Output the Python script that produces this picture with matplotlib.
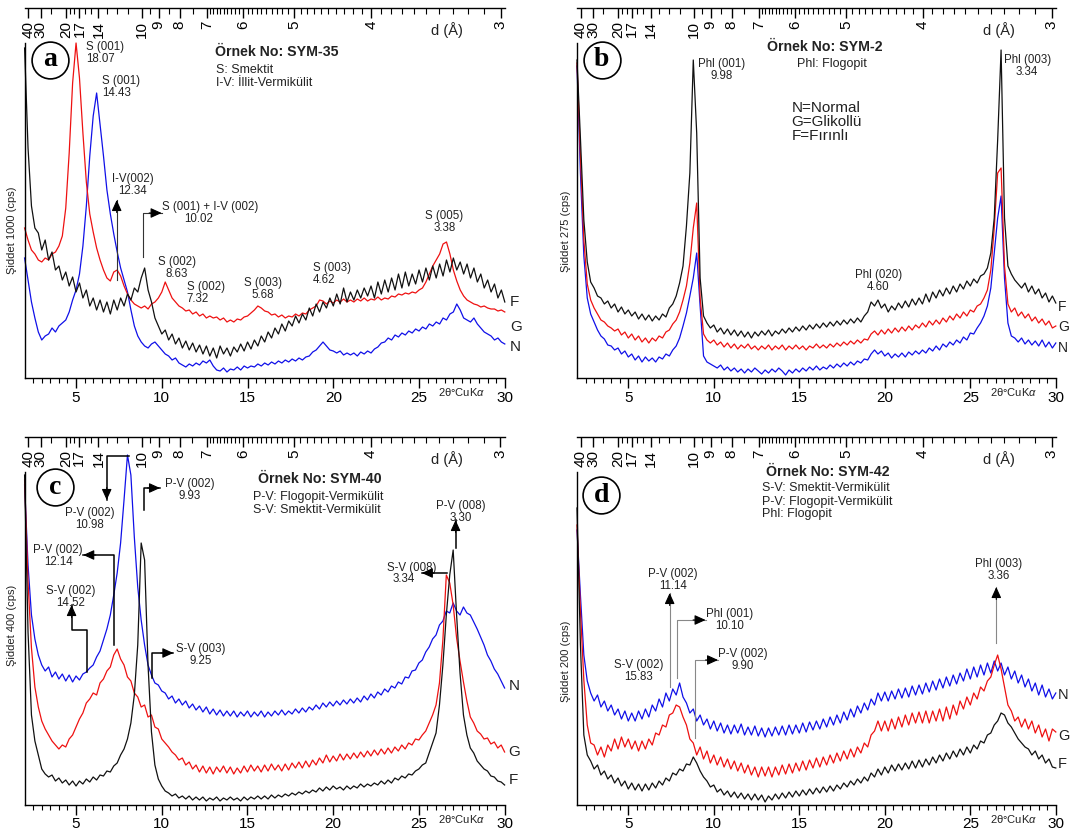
import numpy as np
import matplotlib
matplotlib.use("Agg")
import matplotlib.pyplot as plt

plt.rcParams['font.family'] = ['Liberation Sans', 'DejaVu Sans']
plt.rcParams['mathtext.fontset'] = 'custom'
plt.rcParams['mathtext.it'] = 'Liberation Sans:italic'
plt.rcParams['mathtext.rm'] = 'Liberation Sans'

W, H = 1070, 839

# 2-theta sampling grid (degrees)
two_theta = np.round(np.arange(2.0, 30.01, 0.2), 1)

# ---------------- Panel a : SYM-35 (intensity, arbitrary units) ----------------
a_F = [330,230,172,150,145, 128,138,118,126,108, 112,98,106,92,101, 86,95,80,88,72,
       80,68,78,66,76, 64,78,68,80,72, 84,78,90,86,100, 110,88,76,60,52,
       44,48,38,44,34, 40,30,37,28,35, 26,33,24,32,22, 30,20,32,24,30,
       22,31,26,34,27, 36,29,38,32,42, 36,46,40,50,44, 54,47,57,52,62,
       55,64,58,70,62, 74,66,76,70,80, 72,84,74,90,76, 86,78,88,80,90,
       82,92,80,96,84, 98,86,100,88,104, 90,106,92,104,94, 108,96,110,98,112,
       100,114,102,118,106, 120,108,116,104,114, 100,110,96,104,90, 98,86,94,80,88,
       76]
a_G = [150,138,128,124,118, 116,120,118,124,126, 132,142,170,225,295, 335,300,245,196,164,
       146,130,118,108,100, 97,106,108,102,92, 84,78,74,72,70, 72,69,74,76,80,
       86,96,88,80,76, 72,70,67,68,64, 66,62,64,60,62, 60,61,58,60,56,
       58,56,59,58,61, 62,65,68,72,70, 67,66,63,64,61, 63,60,62,61,64,
       62,65,64,68,70, 72,78,77,74,77, 75,78,76,79,76, 78,76,79,77,80,
       77,79,78,81,78, 80,79,82,81,84, 83,85,84,86,85, 88,90,96,104,112,
       118,124,134,136,124, 108,97,88,82,78, 76,74,73,71,72, 70,69,69,67,68,
       66]
a_N = [120,98,76,60,46, 38,42,44,50,46, 52,55,58,66,78, 88,104,132,172,222,
       262,285,254,222,188, 164,144,126,110,98, 86,68,52,42,36, 32,30,34,36,32,
       28,24,22,18,20, 15,13,11,14,12, 15,13,17,15,18, 12,8,7,10,6,
       9,8,11,8,12, 10,12,11,14,12, 15,13,16,14,17, 15,18,16,19,17,
       20,18,21,22,26, 28,32,36,32,28, 27,25,27,23,25, 23,25,22,26,24,
       27,25,29,31,35, 36,40,38,43,41, 45,43,47,45,49, 47,51,49,54,52,
       56,54,60,58,64, 66,74,68,60,58, 56,60,54,50,46, 44,42,38,40,36,
       34]

# ---------------- Panel b : SYM-2 ----------------
b_F = [318,240,158,116,96, 90,82,80,74,77, 70,74,66,71,64, 68,62,66,59,64,
       58,63,57,62,58, 64,61,70,74,82, 95,112,152,205,318, 245,100,62,55,50,
       53,46,50,44,49, 43,48,42,47,41, 46,40,46,42,47, 43,48,42,47,44,
       49,45,50,46,51, 47,52,48,53,49, 54,50,55,51,56, 52,57,53,58,54,
       59,55,60,56,62, 66,76,72,78,70, 74,66,72,68,75, 70,77,71,79,73,
       80,74,84,76,86, 80,88,82,90,84, 92,86,94,89,97, 92,99,95,102,104,
       110,125,160,238,328, 160,112,104,98,94, 90,95,86,92,84, 89,80,85,76,82,
       75]
b_G = [315,222,138,94,78, 70,64,58,56,52, 50,47,49,43,46, 40,44,38,42,36,
       40,35,40,37,42, 40,46,48,54,58, 66,78,92,115,150, 175,80,44,38,35,
       38,33,36,31,35, 30,34,29,33,30, 34,29,32,28,32, 29,33,28,32,29,
       33,28,32,29,33, 29,32,28,32,30, 34,30,33,30,34, 31,35,32,36,33,
       37,34,38,35,39, 38,44,47,43,48, 44,49,45,50,46, 51,47,52,48,53,
       50,55,51,57,53, 58,54,60,56,62, 58,64,60,66,62, 68,66,72,74,80,
       88,108,150,205,210, 112,74,66,70,62, 66,60,64,57,61, 55,59,53,57,50,
       52]
b_N = [312,205,122,80,64, 56,48,42,39,33, 32,28,30,24,27, 21,24,18,22,16,
       21,17,20,16,21, 19,24,22,28,32, 40,52,65,82,100, 125,72,22,16,14,
       12,10,13,8,11, 7,10,6,9,5, 9,6,10,7,4, 8,5,9,6,10,
       7,3,8,5,9, 6,10,7,11,8, 12,8,11,9,13, 10,14,11,15,12,
       16,13,17,15,19, 18,24,28,24,27, 22,25,20,24,21, 25,21,26,23,27,
       24,28,25,30,27, 32,28,34,31,36, 33,38,35,41,38, 45,44,50,55,62,
       72,90,125,160,182, 100,55,42,40,36, 40,34,38,33,37, 32,38,31,36,30,
       35]

# ---------------- Panel c : SYM-40 ----------------
c_N = [320,240,190,166,150, 140,134,138,128,133, 126,131,124,130,123, 129,125,131,133,137,
       140,148,154,165,176, 190,210,232,262,305, 350,330,268,218,185, 160,140,130,122,120,
       114,112,106,109,102, 106,100,104,97,101, 95,99,93,98,91, 96,90,95,89,94,
       89,94,88,93,89, 94,88,93,89,94, 88,93,89,94,90, 95,90,94,91,96,
       92,97,93,98,95, 100,96,102,98,103, 99,104,100,105,101, 106,102,107,103,109,
       105,111,107,113,110, 116,113,119,117,123, 121,128,127,134,135, 142,145,153,158,166,
       170,180,184,194,192, 202,194,190,198,192, 190,183,176,168,160, 150,144,136,131,124,
       117]
c_G = [325,223,157,118,98, 84,76,70,64,60, 56,60,58,66,70, 78,86,92,102,106,
       112,110,122,126,134, 138,150,156,146,140, 128,124,112,108,98, 100,88,90,78,76,
       66,62,58,53,50, 45,47,40,43,36, 40,33,39,32,38, 31,38,33,39,32,
       38,31,37,32,39, 33,40,34,39,33, 40,34,41,35,40, 34,41,35,42,37,
       43,37,44,38,45, 40,47,42,50,43, 49,44,51,45,51, 46,52,47,53,48,
       54,49,55,50,56, 51,57,52,58,54, 60,56,62,60,66, 65,70,74,82,90,
       100,122,165,230,222, 200,167,144,123,104, 88,82,74,71,66, 67,61,63,57,60,
       53]
c_F = [330,173,90,64,50, 36,31,28,30,24, 27,22,25,20,24, 19,24,21,26,23,
       28,25,30,29,34, 33,39,42,50,56, 66,82,110,160,262, 245,140,73,40,26,
       19,14,12,9,11, 7,9,6,9,5, 8,5,8,4,7, 5,8,4,7,5,
       8,5,7,4,8, 5,8,6,9,6, 9,6,10,7,10, 8,11,9,12,10,
       13,11,14,12,15, 13,17,14,18,15, 19,16,18,15,19, 16,19,17,21,18,
       21,19,22,20,24, 21,25,22,27,25, 29,27,31,30,34, 36,40,42,52,62,
       72,100,140,190,230, 255,190,132,90,70, 57,52,44,40,36, 34,29,28,24,23,
       20]

# ---------------- Panel d : SYM-42 ----------------
d_N = [275,210,150,124,112, 104,110,98,104,94, 100,90,96,86,94, 84,92,84,94,86,
       96,88,100,94,106, 98,112,104,116,110, 122,108,102,92,96, 84,90,80,86,76,
       84,74,82,72,80, 71,80,72,81,70, 78,70,79,69,77, 68,77,69,78,70,
       79,70,80,71,80, 72,82,73,83,75, 84,76,86,78,88, 80,90,82,93,85,
       96,88,99,92,102, 95,106,100,112,104, 113,104,114,106,116, 107,117,108,119,110,
       120,111,122,113,124, 115,126,117,128,119, 130,121,132,124,136, 126,138,128,140,130,
       142,132,144,134,142, 130,138,126,134,122, 130,118,126,114,122, 110,120,108,116,106,
       112]
d_G = [280,195,125,80,62, 60,50,58,48,60, 54,66,56,68,58, 66,56,64,54,64,
       56,66,60,72,70, 80,78,90,92,100, 98,88,80,66,62, 50,58,46,54,42,
       50,40,48,38,46, 36,44,34,42,32, 40,30,38,28,38, 29,38,28,38,30,
       40,31,41,32,42, 34,44,35,45,37, 47,38,48,40,50, 42,52,44,54,46,
       56,48,58,52,62, 58,70,74,84,74, 84,74,86,76,88, 78,90,80,92,82,
       93,82,94,82,94, 84,96,84,98,86, 100,90,104,96,108, 100,112,106,118,114,
       124,128,140,150,136, 118,100,94,84,88, 78,86,76,84,72, 80,68,76,64,76,
       73]
d_F = [297,160,70,50,44, 36,40,30,34,26, 30,22,27,19,24, 16,22,15,21,14,
       21,15,22,17,24, 20,27,24,32,30, 36,34,41,40,48, 42,34,28,24,18,
       20,13,16,10,14, 8,13,7,12,6, 11,5,11,5,10, 3,9,5,11,6,
       12,7,13,8,14, 9,15,10,16,11, 17,12,18,13,19, 14,20,16,22,18,
       24,20,26,22,28, 24,32,28,36,30, 38,32,40,34,41, 35,42,36,44,37,
       45,38,46,40,48, 42,50,44,52,46, 54,48,56,50,58, 52,60,56,64,62,
       70,72,80,84,92, 90,82,78,72,66, 62,58,56,50,54, 46,50,42,46,38,
       37]

# d-spacing scale (Angstrom) on the top axis
d_major = [40, 30, 20, 17, 14, 10, 9, 8, 7, 6, 5, 4, 3]
d_minor = [25, 19, 18, 16, 15, 13, 12, 11, 9.5, 8.5, 7.5,
           6.9, 6.8, 6.7, 6.6, 6.5, 6.4, 6.3, 6.2, 6.1,
           5.9, 5.8, 5.7, 5.6, 5.5, 5.4, 5.3, 5.2, 5.1,
           4.9, 4.8, 4.7, 4.6, 4.5, 4.4, 4.3, 4.2, 4.1,
           3.9, 3.8, 3.7, 3.6, 3.5, 3.4, 3.3, 3.2, 3.1]

BLUE, RED, BLACK = '#1010e8', '#ee1111', '#111111'
TXT = '#222222'


def d_to_2theta(d):
    return 2 * np.degrees(np.arcsin(1.5406 / (2 * np.asarray(d, dtype=float))))


fig = plt.figure(figsize=(W / 100, H / 100), dpi=100)


def make_panel(x0, x1, yb, yt, ytop, ylabel, ylab_xy):
    ax = fig.add_axes([x0 / W, 1 - yb / H, (x1 - x0) / W, (yb - yt) / H])
    ax.set_xlim(2, 30)
    ax.set_ylim(0, yb - yt)
    ax.patch.set_visible(False)
    for s in ['top', 'right']:
        ax.spines[s].set_visible(False)
    for s in ['left', 'bottom']:
        ax.spines[s].set_linewidth(1.0)
    ax.set_yticks([])
    ax.set_xticks([5, 10, 15, 20, 25, 30])
    ax.set_xticks(np.arange(2.5, 30.0, 0.5), minor=True)
    ax.tick_params(axis='x', which='major', length=7, width=1.0, labelsize=11, pad=2)
    ax.tick_params(axis='x', which='minor', length=3.5, width=0.8)
    # top d-spacing axis
    tax = fig.add_axes([x0 / W, 1 - ytop / H, (x1 - x0) / W, 0.0001])
    tax.set_xlim(2, 30)
    tax.patch.set_visible(False)
    for s in ['top', 'right', 'left']:
        tax.spines[s].set_visible(False)
    tax.spines['bottom'].set_linewidth(1.0)
    tax.set_yticks([])
    tax.set_xticks(d_to_2theta(d_major))
    tax.set_xticklabels([str(v) for v in d_major], rotation=90)
    tax.set_xticks(d_to_2theta(d_minor), minor=True)
    tax.tick_params(axis='x', which='major', length=7.5, width=1.0, labelsize=11, pad=1.5)
    tax.tick_params(axis='x', which='minor', length=4, width=0.8)
    fig.text(ylab_xy[0] / W, 1 - ylab_xy[1] / H, ylabel, rotation=90,
             ha='center', va='center', fontsize=8, color=TXT)
    ax.text(26.65, yb - yt + 13, 'd (Å)', ha='center', va='center', fontsize=10.5,
            color=TXT, clip_on=False)
    ax.text(27.5, -14, '2θ°CuK$\\mathit{\\alpha}$', ha='center', va='center', fontsize=8,
            color=TXT, clip_on=False)
    return ax


def traces(ax, N, G, F):
    ax.plot(two_theta, N, color=BLUE, lw=0.9, clip_on=False)
    ax.plot(two_theta, G, color=RED, lw=0.9, clip_on=False)
    ax.plot(two_theta, F, color=BLACK, lw=0.9, clip_on=False)


def badge(ax, x, y, letter):
    ax.plot([x], [y], marker='o', ms=26.5, mfc='white', mec='k', mew=1.2,
            clip_on=False, zorder=6)
    ax.text(x, y, letter, ha='center', va='center', fontsize=20, fontweight='bold',
            family=['Liberation Serif', 'DejaVu Serif'], zorder=7)


def label(ax, x, y, s, ha='center', fs=8.3, **kw):
    ax.text(x, y, s, ha=ha, va='top', fontsize=fs, color=TXT, multialignment=ha,
            linespacing=1.05, clip_on=False, zorder=5, **kw)


OFF = {'up': (0, -9), 'down': (0, 9), 'right': (-9, 0), 'left': (9, 0)}


def arrow(ax, xs, ys, direction, color='k', lw=0.9):
    ax.plot(xs, ys, color=color, lw=lw, clip_on=False, zorder=4)
    ax.annotate('', xy=(xs[-1], ys[-1]), xytext=OFF[direction], textcoords='offset points',
                arrowprops=dict(arrowstyle='-|>,head_length=0.55,head_width=0.25',
                                mutation_scale=12, color='k', lw=0.8, shrinkA=0, shrinkB=0),
                annotation_clip=False, zorder=5)


def side(ax, x, vals, fs=11):
    for name, v in zip(['F', 'G', 'N'], vals):
        ax.text(x, v, name, ha='left', va='center', fontsize=fs, color=TXT, clip_on=False)


# ---------------- a ----------------
ax = make_panel(24.6, 504.8, 378, 43, 8, 'Şiddet 1000 (cps)', (12, 230))
traces(ax, a_N, a_G, a_F)
badge(ax, 3.48, 318, 'a')
ax.text(13.1, 326, 'Örnek No: SYM-35', ha='left', va='center', fontsize=10.2,
        fontweight='bold', color=TXT)
ax.text(13.16, 308, 'S: Smektit', ha='left', va='center', fontsize=9, color=TXT)
ax.text(13.16, 295, 'I-V: İllit-Vermikülit', ha='left', va='center', fontsize=9, color=TXT)
label(ax, 5.58, 337, 'S (001)\n18.07', ha='left')
label(ax, 6.5, 303, 'S (001)\n14.43', ha='left')
label(ax, 8.3, 205, 'I-V(002)\n12.34')
arrow(ax, [7.37, 7.37], [98, 178], 'up', color='#333333', lw=0.8)
label(ax, 12.84, 177, 'S (001) + I-V (002)')
label(ax, 12.17, 165, '10.02')
arrow(ax, [8.92, 8.92, 9.99], [121, 165, 165], 'right', color='#333333', lw=0.8)
label(ax, 10.86, 122, 'S (002)\n8.63')
label(ax, 11.45, 97, 'S (002)\n7.32', ha='left')
label(ax, 15.9, 101, 'S (003)\n5.68')
label(ax, 18.83, 116, 'S (003)\n4.62', ha='left')
label(ax, 26.48, 168, 'S (005)\n3.38')
side(ax, 30.3, [76, 51, 31])

# ---------------- b ----------------
ax = make_panel(577, 1055.8, 378, 43, 8, 'Şiddet 275 (cps)', (566, 231))
traces(ax, b_N, b_G, b_F)
badge(ax, 3.44, 318, 'b')
ax.text(16.5, 331, 'Örnek No: SYM-2', ha='center', va='center', fontsize=10.2,
        fontweight='bold', color=TXT)
ax.text(16.89, 314, 'Phl: Flogopit', ha='center', va='center', fontsize=9, color=TXT)
label(ax, 10.46, 320, 'Phl (001)\n9.98')
label(ax, 28.33, 324, 'Phl (003)\n3.34')
ax.text(14.55, 277, 'N=Normal\nG=Glikollü\nF=Fırınlı', ha='left', va='top', fontsize=11,
        linespacing=1.0, color=TXT)
label(ax, 19.62, 109, 'Phl (020)\n4.60')
side(ax, 30.12, [71, 51, 30], fs=10)

# ---------------- c ----------------
ax = make_panel(24.6, 504.6, 805, 472, 437, 'Şiddet 400 (cps)', (12, 625))
traces(ax, c_N, c_G, c_F)
badge(ax, 3.77, 318, 'c')
ax.text(19.24, 326, 'Örnek No: SYM-40', ha='center', va='center', fontsize=10.2,
        fontweight='bold', color=TXT)
ax.text(15.35, 308, 'P-V: Flogopit-Vermikülit', ha='left', va='center', fontsize=9, color=TXT)
ax.text(15.35, 295, 'S-V: Smektit-Vermikülit', ha='left', va='center', fontsize=9, color=TXT)
label(ax, 5.8, 298, 'P-V (002)\n10.98')
arrow(ax, [8.09, 6.79, 6.79], [349, 349, 305], 'down', lw=1.1)
label(ax, 11.65, 327, 'P-V (002)\n9.93')
arrow(ax, [8.97, 8.97, 9.9], [295, 317, 317], 'right', lw=1.1)
label(ax, 3.96, 261, 'P-V (002)\n12.14')
arrow(ax, [7.21, 7.21, 5.42], [160, 250, 250], 'left', lw=1.1)
label(ax, 4.7, 220, 'S-V (002)\n14.52')
arrow(ax, [5.62, 5.62, 4.74, 4.74], [133, 175, 175, 200], 'up', lw=1.1)
label(ax, 12.27, 162, 'S-V (003)\n9.25')
arrow(ax, [9.41, 9.41, 10.68], [127, 152, 152], 'right', lw=1.1)
label(ax, 27.45, 305, 'P-V (008)\n3.30')
arrow(ax, [27.14, 27.14], [257, 285], 'up', lw=1.1)
label(ax, 24.6, 243, 'S-V (008)')
label(ax, 24.1, 232, '3.34')
arrow(ax, [26.63, 25.17], [232, 232], 'left', lw=1.1)
ax.text(30.23, 119, 'N', ha='left', va='center', fontsize=11, color=TXT, clip_on=False)
ax.text(30.23, 53, 'G', ha='left', va='center', fontsize=11, color=TXT, clip_on=False)
ax.text(30.23, 25, 'F', ha='left', va='center', fontsize=11, color=TXT, clip_on=False)

# ---------------- d ----------------
ax = make_panel(577, 1055.8, 805, 472, 437, 'Şiddet 200 (cps)', (566, 661))
traces(ax, d_N, d_G, d_F)
badge(ax, 3.42, 310, 'd')
ax.text(16.68, 333, 'Örnek No: SYM-42', ha='center', va='center', fontsize=10.2,
        fontweight='bold', color=TXT)
ax.text(12.84, 317, 'S-V: Smektit-Vermikülit', ha='left', va='center', fontsize=9, color=TXT)
ax.text(12.84, 303, 'P-V: Flogopit-Vermikülit', ha='left', va='center', fontsize=9, color=TXT)
ax.text(12.84, 291, 'Phl: Flogopit', ha='left', va='center', fontsize=9, color=TXT)
label(ax, 7.6, 237, 'P-V (002)\n11.14')
arrow(ax, [7.42, 7.42], [118, 212], 'up', color='#888888', lw=0.8)
label(ax, 10.93, 197, 'Phl (001)\n10.10')
arrow(ax, [7.87, 7.87, 9.52], [127, 185, 185], 'right', color='#888888', lw=0.8)
label(ax, 11.71, 157, 'P-V (002)\n9.90')
arrow(ax, [8.92, 8.92, 10.25], [67, 145, 145], 'right', color='#888888', lw=0.8)
label(ax, 5.61, 146, 'S-V (002)\n15.83')
label(ax, 26.64, 247, 'Phl (003)\n3.36')
arrow(ax, [26.52, 26.52], [162, 218], 'up', color='#888888', lw=0.8)
ax.text(30.12, 110, 'N', ha='left', va='center', fontsize=10.5, color=TXT, clip_on=False)
ax.text(30.12, 69, 'G', ha='left', va='center', fontsize=10.5, color=TXT, clip_on=False)
ax.text(30.12, 41, 'F', ha='left', va='center', fontsize=10.5, color=TXT, clip_on=False)

fig.savefig('out.png', dpi=100)
